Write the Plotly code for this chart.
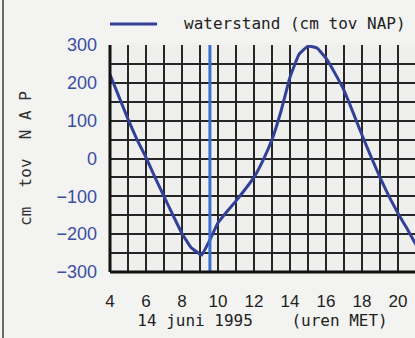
import plotly.graph_objects as go

# ---- data ----
hours = [4, 4.5, 5, 5.5, 6, 6.5, 7, 7.5, 8, 8.5, 9, 9.1, 9.5, 10, 10.5, 11, 11.5,
         12, 12.5, 13, 13.5, 14, 14.5, 15, 15.5, 16, 16.5, 17, 17.5, 18, 18.5,
         19, 19.5, 20, 20.5, 21]
waterstand = [222, 163, 104, 50, 3, -50, -100, -150, -198, -235, -253, -255, -220,
              -170, -140, -112, -82, -50, -5, 50, 125, 215, 275, 297, 292, 265,
              225, 180, 122, 62, 5, -50, -100, -145, -185, -228]
series_name = "waterstand (cm tov NAP)"
now_hour = 9.55
x_ticks = [4, 6, 8, 10, 12, 14, 16, 18, 20]
y_ticks = [-300, -200, -100, 0, 100, 200, 300]

W, H = 415, 338
ML, MR, MT, MB = 110, 0, 45, 66
PW, PH = W - ML - MR, H - MT - MB
px_per_hour = 18.0
x_max = 4 + PW / px_per_hour

curve_col = "#33409a"
now_col = "#3c6ed2"
grid_col = "#262626"
sans = "Liberation Sans, Arial, sans-serif"
mono = "DejaVu Sans Mono, Liberation Mono, monospace"

fig = go.Figure()
fig.add_trace(go.Scatter(
    x=hours, y=waterstand, mode="lines", name=series_name, showlegend=False,
    line=dict(color=curve_col, width=3, shape="spline", smoothing=0.3),
))
fig.add_trace(go.Scatter(
    x=[now_hour, now_hour], y=[-300, 300], mode="lines", showlegend=False,
    line=dict(color=now_col, width=3), hoverinfo="skip",
))

legend_y = 1 + (MT - 24) / PH
fig.update_layout(
    width=W, height=H,
    margin=dict(l=ML, r=MR, t=MT, b=MB, autoexpand=False),
    paper_bgcolor="#f3f3f1", plot_bgcolor="#efefed",
    showlegend=False,
    xaxis=dict(range=[4, x_max], tickvals=x_ticks, ticks="", showline=False,
               showgrid=True, gridcolor=grid_col, gridwidth=2, automargin=False,
               minor=dict(dtick=1, tick0=4, showgrid=True, gridcolor=grid_col, gridwidth=2),
               tickfont=dict(family=sans, size=17, color="#222"),
               ticklabelstandoff=17, zeroline=False,
               title=dict(text="14 juni 1995    (uren MET)", standoff=4,
                          font=dict(family=mono, size=16, color="#222"))),
    yaxis=dict(range=[-300, 300], tickvals=y_ticks, ticks="", showline=False,
               showgrid=True, gridcolor=grid_col, gridwidth=2, automargin=False,
               minor=dict(dtick=50, tick0=0, showgrid=True, gridcolor=grid_col, gridwidth=2),
               tickfont=dict(family=sans, size=18, color="#3a4ea2"),
               ticklabelstandoff=12, zeroline=False,
               title=dict(text="cm  tov  N A P", standoff=20,
                          font=dict(family=mono, size=16, color="#333"))),
)

# legend: sample line + label
fig.add_shape(type="line", xref="paper", yref="paper",
              x0=0, x1=47 / PW, y0=legend_y, y1=legend_y,
              line=dict(color=curve_col, width=3))
fig.add_annotation(xref="paper", yref="paper", x=(182 - ML) / PW, y=legend_y,
                   xanchor="left", yanchor="middle", showarrow=False,
                   text=series_name, font=dict(family=mono, size=16, color="#222"))
# plot frame (left and bottom heavier, like the reference)
fig.add_shape(type="line", xref="x domain", yref="y domain", x0=0, x1=0, y0=0, y1=1,
              line=dict(color="#111", width=3))
fig.add_shape(type="line", xref="x domain", yref="y domain", x0=0, x1=1, y0=0, y1=0,
              line=dict(color="#111", width=3))
# outer page frame line on the left (thin rectangle in paper coordinates)
fx0 = (2 - ML) / PW
fx1 = (4 - ML) / PW
fig.add_shape(type="rect", xref="paper", yref="paper", x0=fx0, x1=fx1,
              y0=-MB / PH, y1=1 + MT / PH,
              line=dict(width=0), fillcolor="#6a6a6a")

fig.write_html("out.html", config={"displayModeBar": False},
               post_script="document.body.style.margin='0';document.body.style.overflow='hidden';")
